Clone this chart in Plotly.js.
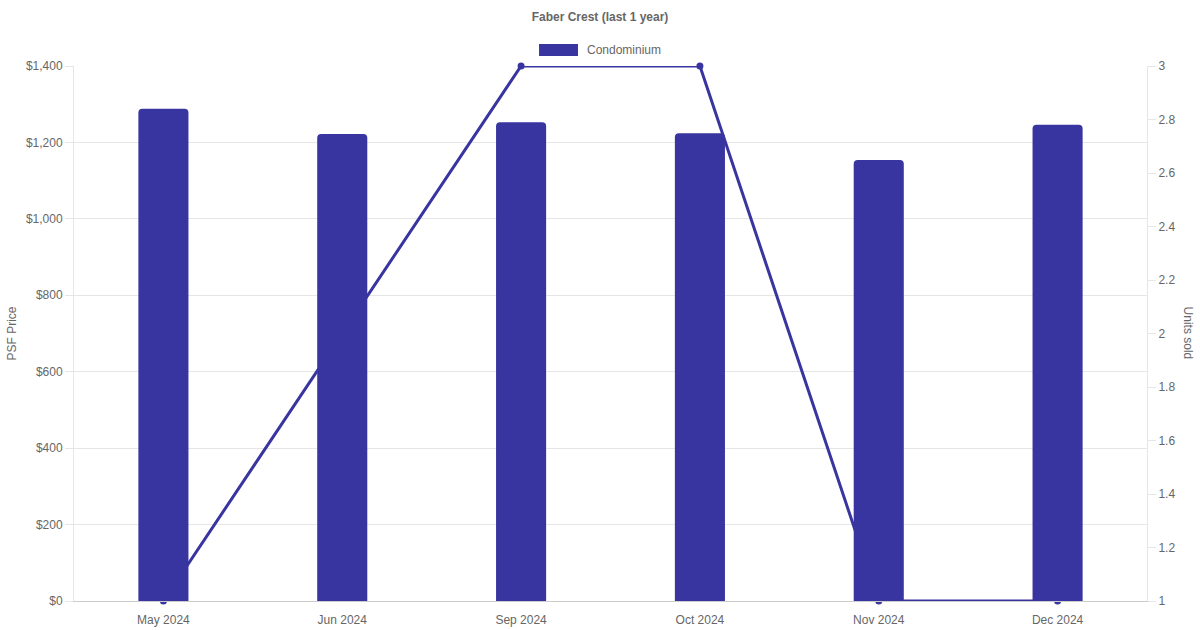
<!DOCTYPE html>
<html>
<head>
<meta charset="utf-8">
<script src="https://cdn.plot.ly/plotly-3.0.1.min.js"></script>
<style>
  html, body { margin: 0; padding: 0; background: #fff; }
  #chart { width: 1200px; height: 630px; }
</style>
</head>
<body>
<div id="chart"></div>
<script>
// Faber Crest - PSF price (bars) and units sold (line)

const months = ['May 2024', 'Jun 2024', 'Sep 2024', 'Oct 2024', 'Nov 2024', 'Dec 2024'];
const psfPrice = [1288, 1222, 1253, 1224, 1154, 1246];
const unitsSold = [1, 2, 3, 3, 1, 1];

const BAR_COLOR = '#3835a0';
const TEXT_COLOR = '#666666';
const GRID_COLOR = '#e6e6e6';
const FONT = "'Liberation Sans', Arial, Helvetica, sans-serif";

// line goes on the base axis so the bars (overlaying axis) draw on top of it
const lineTrace = {
    x: months,
    y: unitsSold,
    type: 'scatter',
    mode: 'lines+markers',
    yaxis: 'y',
    line: { color: BAR_COLOR, width: 3 },
    marker: { color: BAR_COLOR, size: 7 },
    cliponaxis: false,
    showlegend: false,
    hovertemplate: '%{x}<br>Units sold: %{y}<extra></extra>'
};

const barTrace = {
    x: months,
    y: psfPrice,
    type: 'bar',
    yaxis: 'y2',
    width: 0.28,
    marker: { color: BAR_COLOR, cornerradius: 4 },
    name: 'Condominium',
    showlegend: false,
    hovertemplate: '%{x}<br>PSF: $%{y:,}<extra></extra>'
};

const layout = {
    width: 1200,
    height: 630,
    margin: { t: 66, r: 53, b: 29, l: 74 },
    paper_bgcolor: '#ffffff',
    plot_bgcolor: '#ffffff',
    font: { family: FONT, size: 12, color: TEXT_COLOR },
    title: {
        text: 'Faber Crest (last 1 year)',
        font: { family: FONT, size: 12, color: TEXT_COLOR, weight: 'bold' },
        x: 0.5,
        xref: 'container',
        y: 1 - 17 / 630,
        yanchor: 'middle'
    },
    xaxis: {
        type: 'category',
        showgrid: false,
        showline: true,
        linecolor: '#cccccc',
        linewidth: 1,
        ticks: '',
        ticklabelstandoff: 8,
        tickfont: { size: 12, color: TEXT_COLOR },
        zeroline: false
    },
    yaxis: {
        side: 'right',
        range: [1, 3],
        dtick: 0.2,
        showgrid: false,
        zeroline: false,
        showline: true,
        linecolor: GRID_COLOR,
        ticks: 'outside',
        ticklen: 8,
        tickcolor: GRID_COLOR,
        tickfont: { size: 12, color: TEXT_COLOR }
    },
    yaxis2: {
        overlaying: 'y',
        side: 'left',
        range: [0, 1400],
        dtick: 200,
        tickprefix: '$',
        tickformat: ',',
        showgrid: true,
        gridcolor: GRID_COLOR,
        zeroline: false,
        showline: true,
        linecolor: GRID_COLOR,
        ticks: 'outside',
        ticklen: 8,
        tickcolor: GRID_COLOR,
        tickfont: { size: 12, color: TEXT_COLOR }
    },
    shapes: [{
        type: 'rect',
        xref: 'paper', yref: 'paper',
        x0: 0.4334, x1: 0.4697,
        y0: 1.0187, y1: 1.0411,
        fillcolor: BAR_COLOR,
        line: { width: 0 }
    }],
    annotations: [
        {
            text: 'Condominium',
            xref: 'paper', yref: 'paper',
            x: 0.4762, y: 1.0299,
            xanchor: 'left', yanchor: 'middle',
            showarrow: false,
            font: { size: 12, color: TEXT_COLOR }
        },
        {
            text: 'PSF Price',
            xref: 'paper', yref: 'paper',
            x: -0.0587, y: 0.5,
            xanchor: 'center', yanchor: 'middle',
            textangle: -90,
            showarrow: false,
            font: { size: 12, color: TEXT_COLOR }
        },
        {
            text: 'Units sold',
            xref: 'paper', yref: 'paper',
            x: 1.0391, y: 0.5,
            xanchor: 'center', yanchor: 'middle',
            textangle: 90,
            showarrow: false,
            font: { size: 12, color: TEXT_COLOR }
        }
    ]
};

Plotly.newPlot('chart', [lineTrace, barTrace], layout, { displayModeBar: false, responsive: false });
</script>
</body>
</html>
